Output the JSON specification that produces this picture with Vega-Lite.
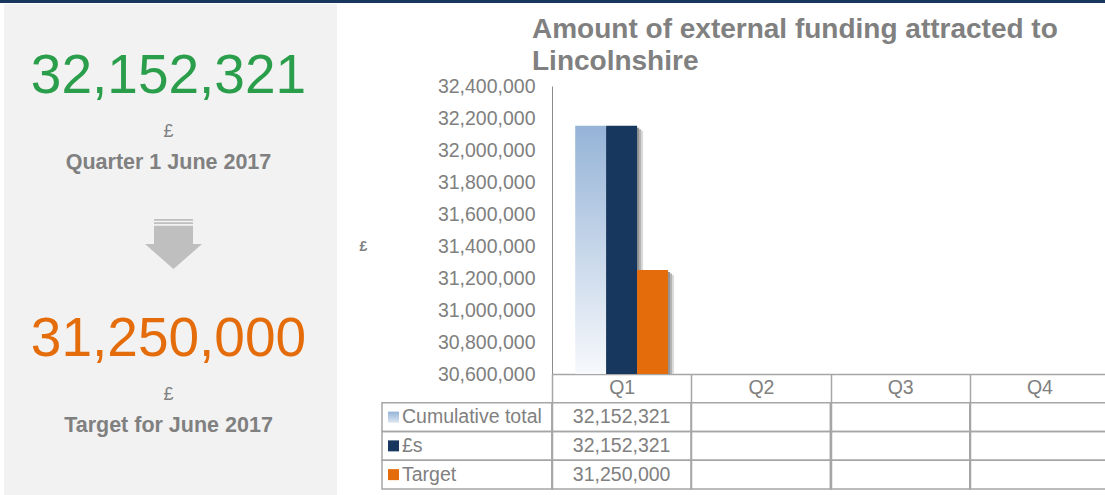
{
  "$schema": "https://vega.github.io/schema/vega-lite/v6.json",
  "width": 557,
  "height": 288,
  "autosize": {"type": "none"},
  "padding": {"left": 552, "top": 86, "right": 0, "bottom": 121},
  "background": "white",
  "config": {"view": {"stroke": null}, "font": "Liberation Sans"},
  "title": {
    "text": ["Amount of external funding attracted to", "Lincolnshire"],
    "anchor": "start",
    "frame": "group",
    "dx": -20,
    "fontSize": 28,
    "fontWeight": "bold",
    "color": "#808080",
    "lineHeight": 32,
    "baseline": "top",
    "offset": -76
  },
  "datasets": {
    "funding": [
      {"series": "Cumulative total", "quarter": "Q1", "value": 32152321},
      {"series": "£s", "quarter": "Q1", "value": 32152321},
      {"series": "Target", "quarter": "Q1", "value": 31250000},
      {"series": "Cumulative total", "quarter": "Q2", "value": null},
      {"series": "£s", "quarter": "Q2", "value": null},
      {"series": "Target", "quarter": "Q2", "value": null},
      {"series": "Cumulative total", "quarter": "Q3", "value": null},
      {"series": "£s", "quarter": "Q3", "value": null},
      {"series": "Target", "quarter": "Q3", "value": null},
      {"series": "Cumulative total", "quarter": "Q4", "value": null},
      {"series": "£s", "quarter": "Q4", "value": null},
      {"series": "Target", "quarter": "Q4", "value": null}
    ],
    "kpi": [
      {"kpi": "Actual", "value": 32152321, "caption": "Quarter 1 June 2017"},
      {"kpi": "Target", "value": 31250000, "caption": "Target for June 2017"}
    ]
  },
  "layer": [
    {
      "data": {"values": [{}]},
      "mark": {"type": "rect", "color": "#f2f2f2"},
      "encoding": {"x": {"value": -548}, "x2": {"value": -215}, "y": {"value": -82}, "y2": {"value": 409}}
    },
    {
      "data": {"values": [{}]},
      "mark": {"type": "rule", "color": "#17375e", "strokeWidth": 3},
      "encoding": {"x": {"value": -552}, "x2": {"value": 557}, "y": {"value": -84.5}}
    },
    {
      "data": {"name": "kpi"},
      "mark": {"type": "text", "fontSize": 55, "baseline": "middle", "align": "center"},
      "encoding": {
        "y": {"field": "kpi", "type": "nominal", "scale": {"type": "point", "domain": ["Actual", "Target"], "range": [-10, 253], "padding": 0}, "axis": null},
        "x": {"value": -383.5},
        "text": {"field": "value", "type": "quantitative", "format": ","},
        "color": {"field": "kpi", "type": "nominal", "scale": {"domain": ["Actual", "Target"], "range": ["#2b9e4b", "#e46c0a"]}, "legend": null}
      }
    },
    {
      "data": {"name": "kpi"},
      "mark": {"type": "text", "text": "£", "fontSize": 18, "baseline": "middle", "align": "center", "dy": 56, "color": "#808080"},
      "encoding": {
        "y": {"field": "kpi", "type": "nominal", "scale": {"type": "point", "domain": ["Actual", "Target"], "range": [-10, 253], "padding": 0}, "axis": null},
        "x": {"value": -383.5}
      }
    },
    {
      "data": {"name": "kpi"},
      "mark": {"type": "text", "fontSize": 21.5, "fontWeight": "bold", "baseline": "middle", "align": "center", "dy": 87, "color": "#808080"},
      "encoding": {
        "y": {"field": "kpi", "type": "nominal", "scale": {"type": "point", "domain": ["Actual", "Target"], "range": [-10, 253], "padding": 0}, "axis": null},
        "x": {"value": -383.5},
        "text": {"field": "caption", "type": "nominal"}
      }
    },
    {
      "data": {"values": [{}]},
      "mark": {
        "type": "point",
        "shape": "M-0.684,-0.877 L0.684,-0.877 L0.684,-0.82 L-0.684,-0.82 Z M-0.684,-0.76 L0.684,-0.76 L0.684,-0.7 L-0.684,-0.7 Z M-0.684,-0.64 L0.684,-0.64 L0.684,0 L1,0 L0,0.877 L-1,0 L-0.684,0 Z",
        "size": 3249,
        "filled": true,
        "color": "#bfbfbf",
        "opacity": 1,
        "strokeWidth": 0
      },
      "encoding": {"x": {"value": -378.5}, "y": {"value": 158}}
    },
    {
      "data": {"name": "funding"},
      "transform": [{"filter": "datum.value != null"}],
      "encoding": {
        "x": {
          "field": "quarter", "type": "nominal",
          "scale": {"domain": ["Q1", "Q2", "Q3", "Q4"], "paddingInner": 0, "paddingOuter": 0},
          "axis": {
            "title": null, "labelAngle": 0, "labelFontSize": 19.5, "labelColor": "#808080",
            "domainColor": "#a6a6a6", "domainWidth": 1.5,
            "ticks": true, "tickBand": "extent", "tickSize": 115, "tickColor": "#a6a6a6", "tickWidth": 1.5,
            "labelPadding": -110.5, "grid": false
          }
        },
        "xOffset": {
          "field": "series", "type": "nominal",
          "scale": {"domain": ["Cumulative total", "£s", "Target"], "paddingInner": 0, "paddingOuter": 0.75}
        },
        "y": {
          "field": "value", "type": "quantitative",
          "scale": {"domain": [30600000, 32400000], "zero": false, "nice": false},
          "axis": {
            "values": [30600000, 30800000, 31000000, 31200000, 31400000, 31600000, 31800000, 32000000, 32200000, 32400000],
            "format": ",.0f", "formatType": "number", "ticks": false, "grid": false,
            "domainColor": "#8c8c8c", "domainWidth": 1,
            "labelFontSize": 19.5, "labelColor": "#808080", "labelPadding": 17,
            "title": "£", "titleAngle": 0, "titleX": -189, "titleY": 160,
            "titleFontSize": 14, "titleFontWeight": "bold", "titleColor": "#808080",
            "titleAlign": "center", "titleBaseline": "middle"
          }
        },
        "y2": {"datum": 30600000}
      },
      "layer": [
        {
          "transform": [{"filter": "datum.series !== 'Cumulative total'"}],
          "mark": {"type": "bar", "color": "#dcdcdc", "opacity": 1, "width": 43, "yOffset": 5, "clip": true}
        },
        {
          "transform": [{"filter": "datum.series !== 'Cumulative total'"}],
          "mark": {"type": "bar", "color": "#b4b4b4", "opacity": 1, "width": 39, "yOffset": 3.5, "clip": true}
        },
        {
          "transform": [{"filter": "datum.series !== 'Cumulative total'"}],
          "mark": {"type": "bar", "color": "#949494", "opacity": 1, "width": 35, "yOffset": 2, "clip": true}
        },
        {
          "transform": [{"filter": "datum.series === 'Cumulative total'"}],
          "mark": {
            "type": "bar",
            "color": {"gradient": "linear", "x1": 0, "y1": 0, "x2": 0, "y2": 1, "stops": [{"offset": 0, "color": "#95b3d7"}, {"offset": 1, "color": "#f7f9fc"}]}
          }
        },
        {
          "transform": [{"filter": "datum.series !== 'Cumulative total'"}],
          "mark": {"type": "bar"},
          "encoding": {
            "color": {"field": "series", "type": "nominal", "scale": {"domain": ["£s", "Target"], "range": ["#17375e", "#e46c0a"]}, "legend": null}
          }
        }
      ]
    },
    {
      "data": {"name": "funding"},
      "mark": {"type": "rect", "filled": false, "color": "#a6a6a6", "strokeWidth": 1.5},
      "encoding": {
        "x": {"field": "quarter", "type": "nominal", "scale": {"domain": ["Q1", "Q2", "Q3", "Q4"], "paddingInner": 0, "paddingOuter": 0}, "axis": null},
        "y": {"field": "series", "type": "nominal", "scale": {"type": "band", "domain": ["header", "Cumulative total", "£s", "Target"], "range": [288, 403], "paddingInner": 0, "paddingOuter": 0}, "axis": null}
      }
    },
    {
      "data": {"name": "funding"},
      "transform": [{"filter": "datum.value != null"}],
      "mark": {"type": "text", "fontSize": 19.5, "color": "#808080", "baseline": "middle", "align": "center"},
      "encoding": {
        "x": {"field": "quarter", "type": "nominal", "scale": {"domain": ["Q1", "Q2", "Q3", "Q4"], "paddingInner": 0, "paddingOuter": 0}, "axis": null},
        "y": {"field": "series", "type": "nominal", "scale": {"type": "band", "domain": ["header", "Cumulative total", "£s", "Target"], "range": [288, 403], "paddingInner": 0, "paddingOuter": 0}, "axis": null},
        "text": {"field": "value", "type": "quantitative", "format": ","}
      }
    },
    {
      "data": {"name": "funding"},
      "transform": [{"filter": "datum.quarter === 'Q1'"}],
      "mark": {"type": "rect", "filled": false, "color": "#a6a6a6", "strokeWidth": 1.5},
      "encoding": {
        "x": {"value": -170},
        "x2": {"value": 0},
        "y": {"field": "series", "type": "nominal", "scale": {"type": "band", "domain": ["header", "Cumulative total", "£s", "Target"], "range": [288, 403], "paddingInner": 0, "paddingOuter": 0}, "axis": null}
      }
    },
    {
      "data": {"name": "funding"},
      "transform": [{"filter": "datum.quarter === 'Q1'"}],
      "mark": {"type": "text", "fontSize": 19.5, "color": "#808080", "baseline": "middle", "align": "left"},
      "encoding": {
        "x": {"value": -150},
        "y": {"field": "series", "type": "nominal", "scale": {"type": "band", "domain": ["header", "Cumulative total", "£s", "Target"], "range": [288, 403], "paddingInner": 0, "paddingOuter": 0}, "axis": null},
        "text": {"field": "series", "type": "nominal"}
      }
    },
    {
      "data": {"name": "funding"},
      "transform": [{"filter": "datum.quarter === 'Q1' && datum.series === 'Cumulative total'"}],
      "mark": {
        "type": "point", "shape": "square", "size": 121, "filled": true, "opacity": 1, "strokeWidth": 0,
        "fill": {"gradient": "linear", "x1": 0, "y1": 0, "x2": 0, "y2": 1, "stops": [{"offset": 0, "color": "#95b3d7"}, {"offset": 1, "color": "#dce6f2"}]}
      },
      "encoding": {
        "x": {"value": -158.5},
        "y": {"field": "series", "type": "nominal", "scale": {"type": "band", "domain": ["header", "Cumulative total", "£s", "Target"], "range": [288, 403], "paddingInner": 0, "paddingOuter": 0}, "axis": null}
      }
    },
    {
      "data": {"name": "funding"},
      "transform": [{"filter": "datum.quarter === 'Q1' && datum.series !== 'Cumulative total'"}],
      "mark": {"type": "point", "shape": "square", "size": 121, "filled": true, "opacity": 1, "strokeWidth": 0},
      "encoding": {
        "x": {"value": -158.5},
        "y": {"field": "series", "type": "nominal", "scale": {"type": "band", "domain": ["header", "Cumulative total", "£s", "Target"], "range": [288, 403], "paddingInner": 0, "paddingOuter": 0}, "axis": null},
        "color": {"field": "series", "type": "nominal", "scale": {"domain": ["£s", "Target"], "range": ["#17375e", "#e46c0a"]}, "legend": null}
      }
    }
  ],
  "resolve": {"scale": {"x": "independent", "y": "independent", "color": "independent"}}
}
